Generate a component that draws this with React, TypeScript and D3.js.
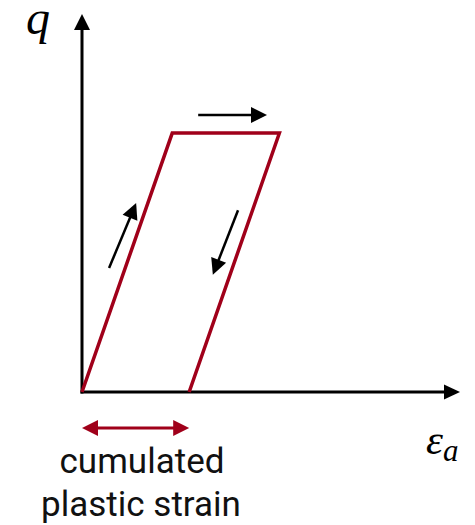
import React from "react";
import * as d3 from "d3";

// Idealised loading / unloading cycle in the (axial strain, deviator stress) plane
const cycleStrain = [0, 0.24, 0.525, 0.285];
const cycleStress = [0, 0.685, 0.685, 0];

// Direction indicators along the cycle: [x0, y0, x1, y1] in data units
const loadArrow = [0.072, 0.328, 0.144, 0.5];
const flowArrow = [0.309, 0.733, 0.492, 0.733];
const unloadArrow = [0.415, 0.481, 0.348, 0.31];

const plasticStrainLabel = ["cumulated", "plastic strain"];

const W = 475;
const H = 525;
const RED = "#A0001A";

function arrowHead(x0: number, y0: number, x1: number, y1: number, len: number, half: number) {
  const dx = x1 - x0;
  const dy = y1 - y0;
  const d = Math.hypot(dx, dy);
  const ux = dx / d;
  const uy = dy / d;
  const bx = x1 - ux * len;
  const by = y1 - uy * len;
  return `${x1},${y1} ${bx - uy * half},${by + ux * half} ${bx + uy * half},${by - ux * half}`;
}

function Arrow({ p, color, width, len, half }: { p: number[]; color: string; width: number; len: number; half: number }) {
  const [x0, y0, x1, y1] = p;
  const d = Math.hypot(x1 - x0, y1 - y0);
  const ex = x1 - ((x1 - x0) / d) * (len - 2);
  const ey = y1 - ((y1 - y0) / d) * (len - 2);
  return (
    <g>
      <line x1={x0} y1={y0} x2={ex} y2={ey} stroke={color} strokeWidth={width} />
      <polygon points={arrowHead(x0, y0, x1, y1, len, half)} fill={color} />
    </g>
  );
}

export default function App() {
  const x = d3.scaleLinear().domain([0, 1]).range([82, 458]);
  const y = d3.scaleLinear().domain([0, 1]).range([392, 14]);

  const pts: [number, number][] = cycleStrain.map((s, i) => [s, cycleStress[i]]);
  const path = d3
    .line<[number, number]>()
    .x((d) => x(d[0]))
    .y((d) => y(d[1]))(pts) as string;

  const toPx = (a: number[]) => [x(a[0]), y(a[1]), x(a[2]), y(a[3])];

  const plastic = cycleStrain[3];
  const by = 428;

  return (
    <svg
      width={W}
      height={H}
      viewBox={`0 0 ${W} ${H}`}
      style={{ position: "absolute", left: 0, top: 0, background: "#fff" }}
    >
      {/* axes */}
      <Arrow p={[x(0), y(0) + 1.5, x(0), y(1)]} color="#000" width={3} len={16} half={8} />
      <Arrow p={[x(0) - 1.5, y(0), x(1) + 2, y(0)]} color="#000" width={3} len={16} half={7.5} />

      {/* stress-strain cycle */}
      <path d={path} fill="none" stroke={RED} strokeWidth={3.5} strokeLinejoin="miter" />

      {/* direction arrows */}
      <Arrow p={toPx(loadArrow)} color="#000" width={2.5} len={16} half={8} />
      <Arrow p={toPx(flowArrow)} color="#000" width={2.5} len={16} half={8} />
      <Arrow p={toPx(unloadArrow)} color="#000" width={2.5} len={16} half={8} />

      {/* cumulated plastic strain span */}
      <line x1={x(0) + 10} y1={by} x2={x(plastic) - 10} y2={by} stroke={RED} strokeWidth={3} />
      <polygon points={arrowHead(x(plastic), by, x(0), by, 16, 8)} fill={RED} />
      <polygon points={arrowHead(x(0), by, x(plastic), by, 16, 8)} fill={RED} />

      <text
        x={142}
        y={473}
        textAnchor="middle"
        fontFamily="Roboto, 'Open Sans', sans-serif"
        fontSize={35}
        fill="#111"
      >
        {plasticStrainLabel[0]}
      </text>
      <text
        x={141}
        y={516}
        textAnchor="middle"
        fontFamily="Roboto, 'Open Sans', sans-serif"
        fontSize={35}
        fill="#111"
      >
        {plasticStrainLabel[1]}
      </text>

      {/* axis symbols */}
      <text x={26} y={34} fontFamily="'Liberation Serif', serif" fontStyle="italic" fontSize={48} fill="#000">
        q
      </text>
      <text x={426} y={454} fontFamily="'Liberation Serif', serif" fontStyle="italic" fontSize={43} fill="#000">
        ε
        <tspan fontSize={31} dy={7}>
          a
        </tspan>
      </text>
    </svg>
  );
}
